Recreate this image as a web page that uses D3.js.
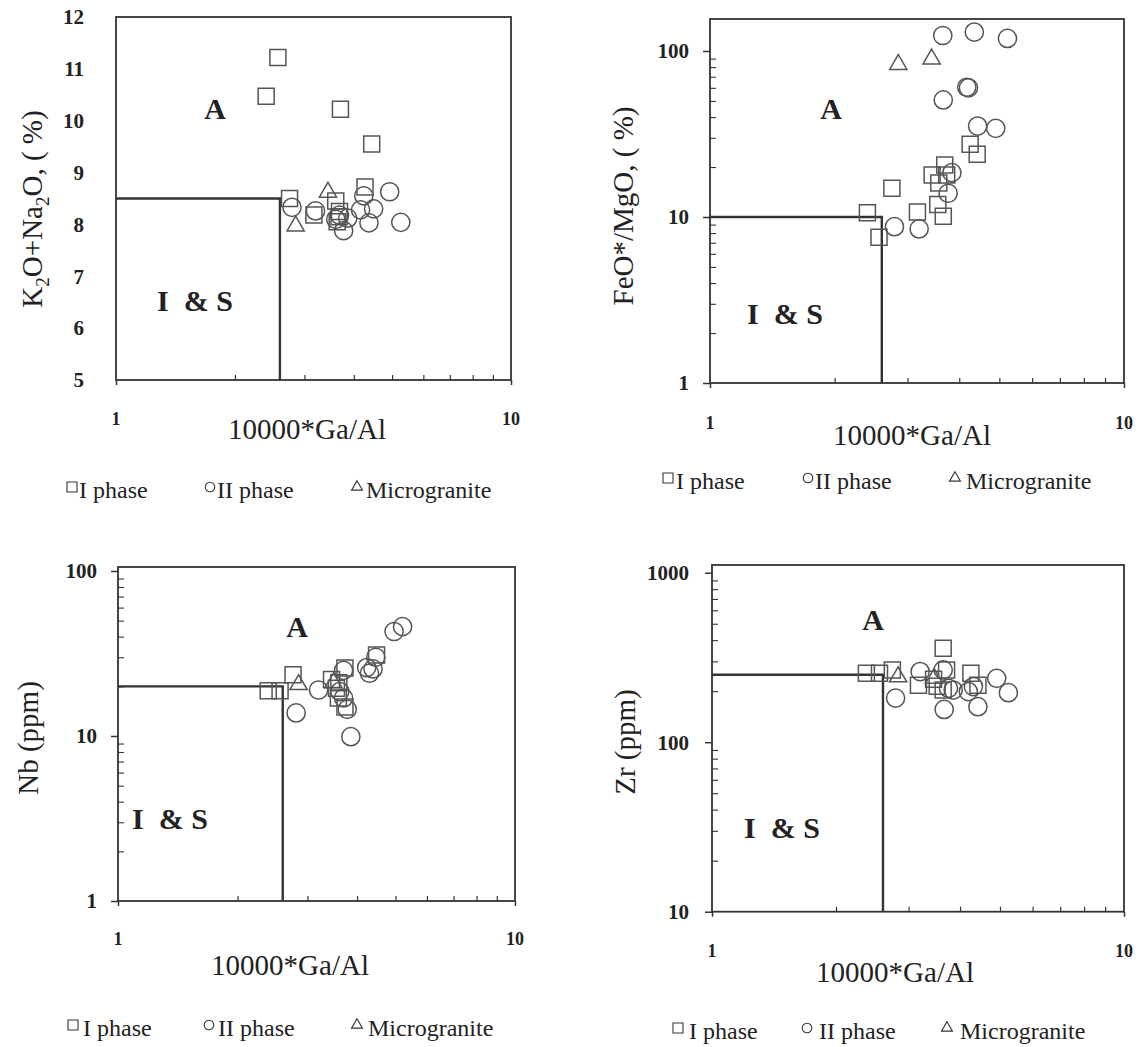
<!DOCTYPE html>
<html><head><meta charset="utf-8">
<script src="https://cdn.jsdelivr.net/npm/d3@7"></script>
<style>
body{margin:0;background:#fff}
svg{display:block}
text{font-family:"Liberation Serif","Times New Roman",serif;fill:#222}
</style>
</head><body>
<svg id="c" width="1142" height="1047"></svg>
<script>
// ---------- DATA (x = 10000*Ga/Al) ----------
const seriesNames = ["I phase", "II phase", "Microgranite"];
const xTickLabels = [1, 10];
const xMinorTicks = [2, 3, 4, 5, 6, 7, 8, 9];

// Panel 1: K2O+Na2O (%)
const alkPhaseI  = [[2.57,11.22],[2.40,10.47],[3.70,10.22],[4.44,9.55],[4.27,8.72],[2.75,8.50],[3.60,8.45],[3.17,8.18],[3.68,8.25],[3.63,8.05],[3.67,8.15]];
const alkPhaseII = [[2.79,8.33],[3.20,8.26],[3.68,8.18],[3.77,7.88],[3.86,8.12],[4.16,8.28],[4.24,8.55],[4.49,8.30],[4.37,8.03],[4.93,8.63],[5.26,8.04],[3.60,8.10]];
const alkMicro   = [[3.44,8.62],[2.85,7.97]];
const alkYTicks  = [5,6,7,8,9,10,11,12];

// Panel 2: FeO*/MgO (%)
const feoPhaseI  = [[4.25,27.4],[4.42,23.9],[3.69,20.6],[3.44,17.9],[3.73,17.9],[3.57,16.0],[2.75,14.9],[3.55,11.9],[3.66,10.1],[3.17,10.7],[2.40,10.6],[2.56,7.55]];
const feoPhaseII = [[3.65,124],[4.35,130],[5.23,119],[4.21,60],[4.17,60.5],[3.66,50.7],[4.43,35.3],[4.90,34.2],[3.84,18.5],[3.76,13.9],[2.79,8.74],[3.20,8.47]];
const feoMicro   = [[2.85,83],[3.43,89.5]];
const feoYTicks  = [1,10,100];

// Panel 3: Nb (ppm)
const nbPhaseI  = [[2.39,18.8],[2.56,18.8],[2.76,23.5],[3.45,22],[3.73,25.8],[3.55,19.5],[3.59,17],[3.73,15],[4.48,31],[3.60,21]];
const nbPhaseII = [[5.21,46],[4.96,43],[4.46,30],[4.23,26],[4.39,25.5],[4.30,24],[3.70,25],[3.20,19],[3.62,18.6],[3.70,17],[3.78,14.5],[2.81,13.8],[3.86,9.9]];
const nbMicro   = [[2.85,20.5],[3.49,21]];
const nbYTicks  = [1,10,100];

// Panel 4: Zr (ppm)
const zrPhaseI  = [[3.64,358],[2.37,255],[2.55,255],[2.74,267],[3.17,217],[3.45,235],[3.52,214],[3.64,203],[3.71,267],[4.25,255],[4.42,217]];
const zrPhaseII = [[3.20,261],[3.64,267],[3.75,208],[3.85,203],[4.19,199],[4.31,213],[4.91,238],[5.24,196],[2.79,182],[3.66,156],[4.42,162]];
const zrMicro   = [[2.83,243],[3.46,238]];
const zrYTicks  = [10,100,1000];

// discrimination boundaries [x, y]
const boundaries = [[2.6,8.5],[2.6,10],[2.6,20],[2.6,250]];

// ---------- LAYOUT ----------
const svg = d3.select("#c");
const STROKE = "#555";

const panels = [
  {series:[alkPhaseI,alkPhaseII,alkMicro], yTicks:alkYTicks, log:false, yDom:[5,12],
   xr:[116,511], yr:[380,17], top:17, bnd:boundaries[0],
   yLabX:84, yTitle:["K","2","O+Na","2","O, ( %)"], yTitleX:42, yTitleY:209,
   xLabY:425, xTitleX:307, xTitleY:439, legY:498, leg:[[72,79],[210,217],[357,366]],
   A:[215,119], IS:[195,311]},
  {series:[feoPhaseI,feoPhaseII,feoMicro], yTicks:feoYTicks, log:true, yDom:[1,100],
   xr:[710,1124], yr:[383,51], top:19, bnd:boundaries[1],
   yLabX:689, yTitle:["FeO*/MgO, ( %)"], yTitleX:633, yTitleY:206,
   xLabY:429, xTitleX:912, xTitleY:445, legY:489, leg:[[668,676],[808,815],[955,966]],
   A:[831,119], IS:[785,324]},
  {series:[nbPhaseI,nbPhaseII,nbMicro], yTicks:nbYTicks, log:true, yDom:[1,100],
   xr:[118,515], yr:[901,571], top:567, bnd:boundaries[2],
   yLabX:97, yTitle:["Nb (ppm)"], yTitleX:38, yTitleY:738,
   xLabY:945, xTitleX:290, xTitleY:975, legY:1036, leg:[[73,83],[209,218],[357,368]],
   A:[297,637], IS:[170,829]},
  {series:[zrPhaseI,zrPhaseII,zrMicro], yTicks:zrYTicks, log:true, yDom:[10,1000],
   xr:[712,1124], yr:[911.7,572.7], top:565, bnd:boundaries[3],
   yLabX:689, yTitle:["Zr (ppm)"], yTitleX:635, yTitleY:742,
   xLabY:957, xTitleX:895, xTitleY:982, legY:1039, leg:[[678,689],[807,819],[947,960]],
   A:[873,630], IS:[782,838]}
];

const symTypes = [d3.symbolSquare, d3.symbolCircle, d3.symbolTriangle];
const symSizes = [256, 260, 128];
const legSizes = [100, 72, 52];

panels.forEach(p => {
  const g = svg.append("g");
  const x = d3.scaleLog().domain([1,10]).range(p.xr);
  const y = (p.log ? d3.scaleLog() : d3.scaleLinear()).domain(p.yDom).range(p.yr);
  const bottom = y(p.yDom[0]);

  // frame
  g.append("rect").attr("x", p.xr[0]).attr("y", p.top)
    .attr("width", p.xr[1]-p.xr[0]).attr("height", bottom - p.top)
    .attr("fill","none").attr("stroke","#333").attr("stroke-width",1.8);

  // x minor ticks (inside)
  const xMin = g.append("g").attr("transform",`translate(0,${bottom})`)
    .call(d3.axisBottom(x).tickValues(xMinorTicks).tickSize(-5).tickFormat(""));
  xMin.select(".domain").remove();
  xMin.selectAll("line").attr("stroke","#333").attr("stroke-width",1.2);
  // x major ticks (outside)
  const xMaj = g.append("g").attr("transform",`translate(0,${bottom})`)
    .call(d3.axisBottom(x).tickValues(xTickLabels).tickSize(5).tickFormat(""));
  xMaj.select(".domain").remove();
  xMaj.selectAll("line").attr("stroke","#333").attr("stroke-width",1.5);
  // x labels
  g.selectAll(".xl").data(xTickLabels).enter().append("text")
    .attr("x", d => x(d)).attr("y", p.xLabY).attr("text-anchor","middle")
    .attr("font-size",18).attr("font-weight","bold").text(d => d);

  // y ticks
  if (p.log) {
    const minors = [];
    for (let i = 0; i < p.yTicks.length-1; i++)
      for (let k = 2; k <= 9; k++) minors.push(p.yTicks[i]*k);
    const yMin = g.append("g").attr("transform",`translate(${p.xr[0]},0)`)
      .call(d3.axisRight(y).tickValues(minors).tickSize(6).tickFormat(""));
    yMin.select(".domain").remove();
    yMin.selectAll("line").attr("stroke","#333").attr("stroke-width",1.1);
    const yMaj = g.append("g").attr("transform",`translate(${p.xr[0]},0)`)
      .call(d3.axisLeft(y).tickValues(p.yTicks).tickSize(7).tickFormat(""));
    yMaj.select(".domain").remove();
    yMaj.selectAll("line").attr("stroke","#333").attr("stroke-width",1.5);
  }
  g.selectAll(".yl").data(p.yTicks).enter().append("text")
    .attr("x", p.yLabX).attr("y", d => y(d)).attr("dy","0.35em")
    .attr("text-anchor","end").attr("font-size",21).attr("font-weight","bold")
    .text(d => d);

  // boundary lines
  const [bx, by] = p.bnd;
  g.append("path")
    .attr("d", `M${p.xr[0]},${y(by)}H${x(bx)}V${bottom}`)
    .attr("fill","none").attr("stroke","#333").attr("stroke-width",2.4);

  // data points
  p.series.forEach((s, si) => {
    g.selectAll(null).data(s).enter().append("path")
      .attr("d", d3.symbol().type(symTypes[si]).size(symSizes[si]))
      .attr("transform", d => `translate(${x(d[0])},${y(d[1])})`)
      .attr("fill","none").attr("stroke",STROKE).attr("stroke-width",1.5);
  });

  // field labels
  g.append("text").attr("x",p.A[0]).attr("y",p.A[1]).attr("text-anchor","middle")
    .attr("font-size",30).attr("font-weight","bold").text("A");
  g.append("text").attr("x",p.IS[0]).attr("y",p.IS[1]).attr("text-anchor","middle")
    .attr("font-size",30).attr("font-weight","bold").attr("xml:space","preserve").text("I  & S");

  // axis titles
  g.append("text").attr("x",p.xTitleX).attr("y",p.xTitleY).attr("text-anchor","middle")
    .attr("font-size",29).text("10000*Ga/Al");
  const yt = g.append("text")
    .attr("transform",`translate(${p.yTitleX},${p.yTitleY}) rotate(-90)`)
    .attr("text-anchor","middle").attr("font-size",29);
  if (p.yTitle.length > 1) {
    p.yTitle.forEach((t, i) => {
      const ts = yt.append("tspan").text(t);
      if (i % 2 === 1) ts.attr("font-size",19).attr("dy",7);
      else if (i > 0) ts.attr("dy",-7);
    });
  } else yt.text(p.yTitle[0]);

  // legend
  p.leg.forEach((l, i) => {
    g.append("path").attr("d", d3.symbol().type(symTypes[i]).size(legSizes[i]))
      .attr("transform",`translate(${l[0]},${p.legY-11})`)
      .attr("fill","none").attr("stroke","#333").attr("stroke-width",1.1);
    g.append("text").attr("x",l[1]).attr("y",p.legY).attr("font-size",24)
      .text(seriesNames[i]);
  });
});
</script>
</body></html>
